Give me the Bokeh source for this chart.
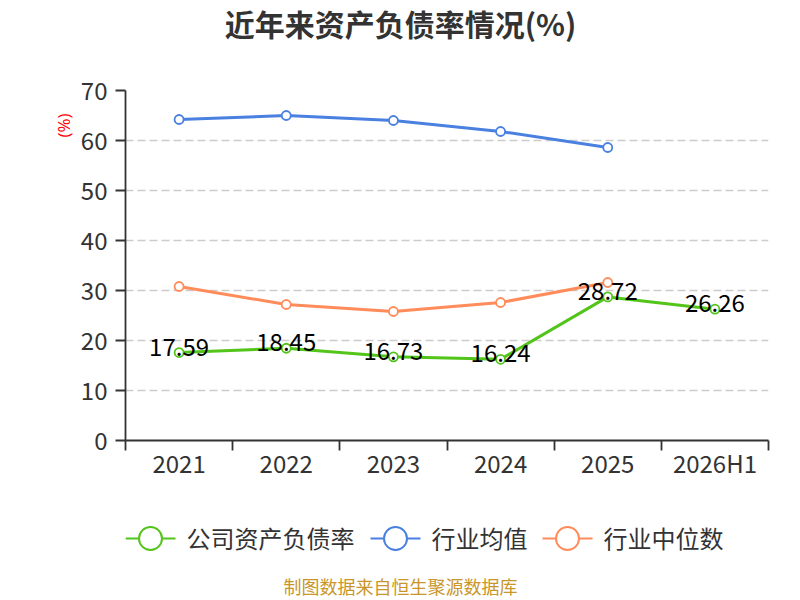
from bokeh.plotting import figure
from bokeh.models import Range1d, FixedTicker, ColumnDataSource, Title
from bokeh.layouts import column
from bokeh.embed import file_html
from bokeh.resources import INLINE
from bokeh.core.properties import value

# ---- data ----
categories = ["2021", "2022", "2023", "2024", "2025", "2026H1"]
company = [17.59, 18.45, 16.73, 16.24, 28.72, 26.26]
industry_avg = [64.2, 65.0, 64.0, 61.8, 58.6]
industry_median = [30.8, 27.2, 25.8, 27.6, 31.6]
series_names = ["公司资产负债率", "行业均值", "行业中位数"]
y_ticks = [0, 10, 20, 30, 40, 50, 60, 70]
title_text = "近年来资产负债率情况(%)"
unit_text = "(%)"
footer_text = "制图数据来自恒生聚源数据库"

# ---- styles ----
GREEN = "#52c41a"
BLUE = "#4a80e0"
ORANGE = "#ff8c5a"
TXT = "#333333"
CJK = "Noto Sans CJK SC"
W = 800
LEFT, RIGHT = 125, 32          # side borders shared by all stacked figures
PX0, PX1 = LEFT, W - RIGHT     # page x of the frames

def blank(height, ytop, ybot):
    f = figure(width=W, height=height, output_backend="svg", toolbar_location=None,
               x_range=Range1d(PX0, PX1), y_range=Range1d(ybot, ytop),
               x_axis_type=None, y_axis_type=None,
               min_border_left=LEFT, min_border_right=RIGHT, min_border_top=0, min_border_bottom=0)
    f.outline_line_color = None
    f.grid.grid_line_color = None
    return f

# ---- title strip (page y 0..70) ----
t = blank(70, 0, 70)
t.text(x=[400], y=[22], text=[title_text], text_align="center", text_baseline="middle",
       text_font=value(CJK), text_font_size="30px", text_font_style="bold", text_color=TXT)

# ---- main chart (page y 70..500, frame 90..440) ----
xs = list(range(len(categories)))
p = figure(width=W, height=430, output_backend="svg", toolbar_location=None,
           x_range=Range1d(-0.5, len(categories) - 0.5), y_range=Range1d(0, 70),
           min_border_left=LEFT, min_border_right=RIGHT, min_border_top=20, min_border_bottom=60)
p.outline_line_color = None

xa = p.xaxis[0]
xa.ticker = FixedTicker(ticks=xs, minor_ticks=[i - 0.5 for i in range(len(categories) + 1)])
xa.major_label_overrides = {i: c for i, c in enumerate(categories)}
xa.major_tick_line_color = None
xa.major_tick_out = 0
xa.major_tick_in = 0
xa.minor_tick_out = 10
xa.minor_tick_in = 0
xa.minor_tick_line_color = TXT
xa.minor_tick_line_width = 1.8
xa.axis_line_color = TXT
xa.axis_line_width = 1.8
xa.major_label_text_font = CJK
xa.major_label_text_font_size = "24px"
xa.major_label_text_color = TXT
xa.major_label_standoff = -6

ya = p.yaxis[0]
ya.ticker = FixedTicker(ticks=y_ticks)
ya.major_tick_out = 10
ya.major_tick_in = 0
ya.minor_tick_line_color = None
ya.major_tick_line_color = TXT
ya.major_tick_line_width = 1.8
ya.axis_line_color = TXT
ya.axis_line_width = 1.8
ya.major_label_text_font = CJK
ya.major_label_text_font_size = "24px"
ya.major_label_text_color = TXT
ya.major_label_standoff = 8

p.xgrid.grid_line_color = None
p.ygrid.ticker = FixedTicker(ticks=y_ticks)
p.ygrid.grid_line_color = "#cccccc"
p.ygrid.grid_line_dash = "8 4"
p.ygrid.grid_line_width = 1.5

p.add_layout(Title(text=unit_text, align="right", offset=23, standoff=5,
                   text_font="Open Sans", text_font_size="17px", text_font_style="normal",
                   text_color="red"), "left")

def draw(vals, color):
    x = xs[:len(vals)]
    p.line(x, vals, line_color=color, line_width=3)
    p.scatter(x, vals, size=9, fill_color="white", line_color=color, line_width=1.8)

draw(industry_avg, BLUE)
draw(industry_median, ORANGE)
draw(company, GREEN)

lbl_src = ColumnDataSource(dict(x=xs, y=company, t=["%.2f" % v for v in company]))
p.text(x="x", y="y", text="t", source=lbl_src, text_align="center", text_baseline="middle",
       y_offset=-6, text_font=value(CJK), text_font_size="24px", text_color="black")

# ---- legend + footer strip (page y 500..600) ----
q = blank(100, 500, 600)
colors = [GREEN, BLUE, ORANGE]
leg_line_x0 = [125, 370, 542]
leg_line_x1 = [175, 420, 592]
leg_circ_x = [150, 395, 567]
leg_text_x = [186, 431, 603]
q.segment(x0=leg_line_x0, y0=[538] * 3, x1=leg_line_x1, y1=[538] * 3, line_color=colors, line_width=2)
q.scatter(x=leg_circ_x, y=[538] * 3, size=23, fill_color="white", line_color=colors, line_width=2)
q.text(x=leg_text_x, y=[537] * 3, text=series_names, text_align="left", text_baseline="middle",
       text_font=value(CJK), text_font_size="24px", text_color=TXT)
q.text(x=[400], y=[585], text=[footer_text], text_align="center", text_baseline="middle",
       text_font=value(CJK), text_font_size="18px", text_color="#c9962b")

open("out.html", "w").write(file_html(column(t, p, q, spacing=0), INLINE))
